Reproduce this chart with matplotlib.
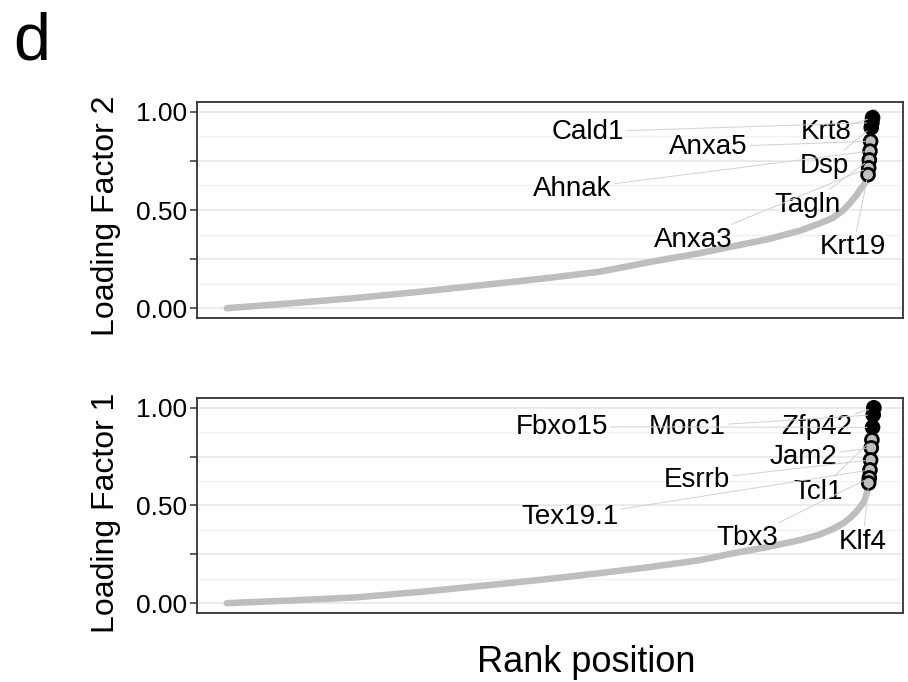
import matplotlib
matplotlib.use("Agg")
import matplotlib.pyplot as plt
import numpy as np

plt.rcParams['font.family'] = ['Liberation Sans', 'DejaVu Sans']

# background curve (rank, loading), labelled genes kept apart
f2_ranks = [1, 100, 200, 300, 422, 500, 577, 654, 731, 782, 835, 886, 915, 937, 953, 963, 972, 978, 985, 990, 999, 1000]
f2_vals = [0.0, 0.025, 0.052, 0.084, 0.127, 0.155, 0.186, 0.235, 0.28, 0.315, 0.35, 0.395, 0.43, 0.46, 0.50,
           0.535, 0.57, 0.60, 0.63, 0.66, 0.985, 1.0]
f2_genes = ['Krt8', 'Cald1', 'Dsp', 'Anxa5', 'Ahnak', 'Tagln', 'Anxa3', 'Krt19']
f2_gene_ranks = [998, 997, 996, 995, 994, 993, 992, 991]
f2_gene_vals = [0.97, 0.945, 0.92, 0.85, 0.80, 0.755, 0.715, 0.68]
f2_label_ranks = [927, 558, 924, 744, 534, 898, 721, 968]
f2_label_vals = [0.898, 0.898, 0.724, 0.821, 0.607, 0.526, 0.347, 0.311]

f1_ranks = [1, 100, 201, 300, 422, 500, 577, 654, 731, 782, 835, 886, 915, 937, 953, 963, 972, 978, 985, 989]
f1_vals = [0.0, 0.014, 0.03, 0.058, 0.098, 0.125, 0.154, 0.185, 0.22, 0.255, 0.287, 0.323, 0.35, 0.38, 0.41,
           0.436, 0.465, 0.49, 0.52, 0.564]
f1_genes = ['Zfp42', 'Morc1', 'Fbxo15', 'Tcl1', 'Jam2', 'Esrrb', 'Tex19.1', 'Tbx3', 'Klf4']
f1_gene_ranks = [1000, 999, 998, 997, 996, 995, 994, 993, 992]
f1_gene_vals = [1.0, 0.964, 0.90, 0.836, 0.795, 0.733, 0.682, 0.641, 0.615]
f1_label_ranks = [912, 712, 518, 914, 892, 727, 531, 805, 983]
f1_label_vals = [0.903, 0.903, 0.903, 0.569, 0.749, 0.631, 0.441, 0.333, 0.313]

yticks = [0, 0.25, 0.5, 0.75, 1.0]
ytick_labels = ['0.00', '', '0.50', '', '1.00']

CURVE = '#bebebe'
DARK = '#333333'


def draw_panel(ax, ranks, vals, genes, g_ranks, g_vals, l_ranks, l_vals):
    r = np.concatenate([ranks, g_ranks])
    v = np.concatenate([vals, g_vals])
    order = np.argsort(r)
    ax.plot(r[order], v[order], color=CURVE, lw=4.7, solid_capstyle='round',
            solid_joinstyle='round', zorder=2)

    for g, gr, gv, lr, lv in zip(genes, g_ranks, g_vals, l_ranks, l_vals):
        ax.annotate(g, xy=(gr, gv), xytext=(lr, lv), fontsize=20, ha='center', va='center',
                    color='black', zorder=5,
                    arrowprops=dict(arrowstyle='-', color='#d0d0d0', lw=0.7,
                                    shrinkA=0, shrinkB=4))
    faces = ['black' if gv >= 0.9 else CURVE for gv in g_vals]
    ax.scatter(g_ranks, g_vals, s=85, c=faces, edgecolors='black', linewidths=2, zorder=4)

    ax.set_xlim(-45, 1045)
    ax.set_ylim(-0.05, 1.05)
    ax.set_yticks(yticks)
    ax.set_yticklabels(ytick_labels)
    ax.set_yticks([0.125, 0.375, 0.625, 0.875], minor=True)
    ax.set_xticks([])
    ax.grid(axis='y', which='major', color='#ebebeb', lw=1.4, zorder=0)
    ax.grid(axis='y', which='minor', color='#f2f2f2', lw=1.0, zorder=0)
    ax.set_axisbelow(True)
    ax.tick_params(axis='y', which='major', length=5, width=1.1, color=DARK,
                   labelsize=19, pad=2, labelcolor='black')
    ax.tick_params(axis='y', which='minor', length=0)
    for s in ax.spines.values():
        s.set_color(DARK)
        s.set_linewidth(1.3)


fig = plt.figure(figsize=(9.08, 6.82), dpi=100)
ax_top = fig.add_axes([0.217, 0.5337, 0.7775, 0.3167])
ax_bot = fig.add_axes([0.217, 0.1012, 0.7775, 0.3152])

draw_panel(ax_top, f2_ranks, f2_vals, f2_genes, f2_gene_ranks, f2_gene_vals, f2_label_ranks, f2_label_vals)
draw_panel(ax_bot, f1_ranks, f1_vals, f1_genes, f1_gene_ranks, f1_gene_vals, f1_label_ranks, f1_label_vals)

fig.text(106 / 908, 1 - 216 / 682, 'Loading Factor 2', rotation=90, fontsize=23, ha='center', va='center')
fig.text(106 / 908, 1 - 513 / 682, 'Loading Factor 1', rotation=90, fontsize=23, ha='center', va='center')
fig.text(586 / 908, 1 - 662 / 682, 'Rank position', fontsize=26, ha='center', va='center')
fig.text(13 / 908, 1 - 60 / 682, 'd', fontsize=48, ha='left', va='baseline')

fig.savefig('out.png', dpi=100)
